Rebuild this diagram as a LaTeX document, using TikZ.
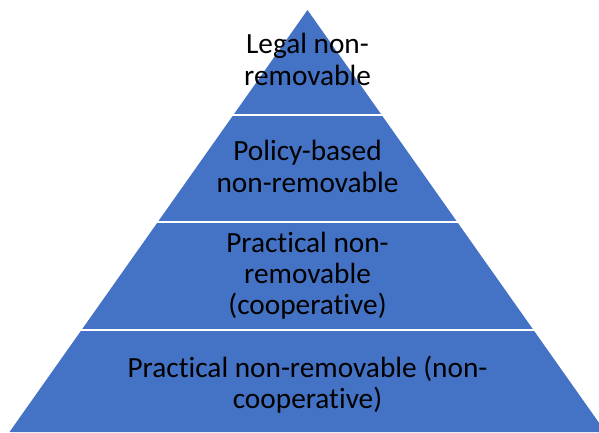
\documentclass[tikz,border=0pt]{standalone}
\usepackage{fontspec}
\setmainfont{Carlito}[Ligatures={NoCommon}]
\definecolor{pyrblue}{HTML}{4472C4}
\begin{document}
\begin{tikzpicture}[x=1pt,y=-1pt,
  lbl/.style={anchor=base,inner sep=0pt,text=black,font=\fontsize{29.3}{32}\selectfont},
  gap/.style={draw=white,line width=2pt}]
\useasboundingbox (0,0) rectangle (599,432);
\begin{scope}
\clip (0,0) rectangle (599,432);
\fill[pyrblue] (307.5,10) coordinate (apex) -- (9.5,432) coordinate (bl) -- (605.5,432) coordinate (br) -- cycle;
\draw[gap] (0,115) -- (610,115);
\draw[gap] (0,222) -- (610,222);
\draw[gap] (0,330) -- (610,330);
\end{scope}
\node[lbl] (l1a) at (307.5,53) {Legal non-};
\node[lbl] (l1b) at (307.5,85) {removable};
\node[lbl] (l2a) at (307.5,160) {Policy-based};
\node[lbl] (l2b) at (307.5,192) {non-removable};
\node[lbl] (l3a) at (307.5,252) {Practical non-};
\node[lbl] (l3b) at (307.5,283) {removable};
\node[lbl] (l3c) at (307.5,314) {(cooperative)};
\node[lbl] (l4a) at (307.5,377) {Practical non-removable (non-};
\node[lbl] (l4b) at (307.5,408) {cooperative)};
\end{tikzpicture}
\end{document}
